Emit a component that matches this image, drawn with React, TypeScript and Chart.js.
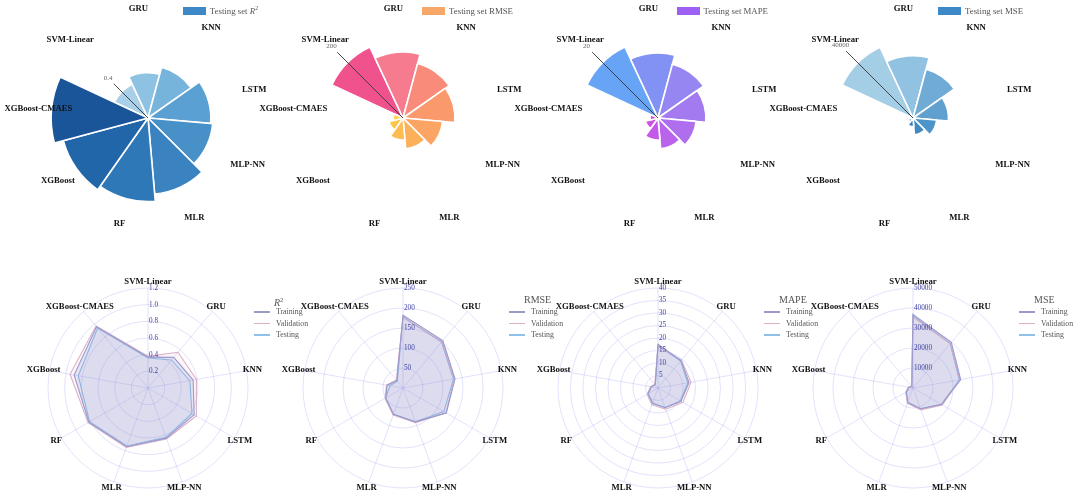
import React, { useEffect, useRef } from "react";
import { Chart, registerables } from "chart.js";

Chart.register(...registerables);

// ---------- data ----------
const categories = ["SVM-Linear", "GRU", "KNN", "LSTM", "MLP-NN", "MLR", "RF", "XGBoost", "XGBoost-CMAES"];
const seriesNames = ["Training", "Validation", "Testing"];
const metricTitles = ["R²", "RMSE", "MAPE", "MSE"];
const polarLegendTexts = ["Testing set ", "Testing set RMSE", "Testing set MAPE", "Testing set MSE"];

const r2Training = [0.37, 0.48, 0.55, 0.64, 0.64, 0.75, 0.82, 0.9, 0.96];
const r2Validation = [0.38, 0.56, 0.59, 0.67, 0.65, 0.76, 0.83, 0.95, 0.97];
const r2Testing = [0.36, 0.44, 0.51, 0.61, 0.63, 0.74, 0.81, 0.85, 0.94];

const rmseTraining = [182, 155, 132, 125, 90, 70, 50, 40, 24];
const rmseValidation = [176, 152, 130, 124, 92, 72, 52, 42, 26];
const rmseTesting = [178, 150, 128, 118, 90, 70, 50, 33, 22];

const mapeTraining = [17.5, 14.3, 12.6, 10.6, 8.4, 6.4, 4.5, 2.7, 1.7];
const mapeValidation = [16.6, 14.6, 13.4, 11.5, 9.0, 7.2, 5.0, 3.0, 2.0];
const mapeTesting = [17, 14.1, 12.1, 10.4, 8.3, 6.7, 4.8, 2.8, 1.7];

const mseTraining = [36800, 29800, 24200, 16400, 11000, 7600, 3800, 2000, 900];
const mseValidation = [35600, 29000, 23800, 16900, 11600, 8200, 4200, 2400, 1100];
const mseTesting = [36300, 29000, 23500, 16500, 11000, 7800, 4000, 2200, 1000];

// polar radial axis: max of range, end of drawn axis line, tick text
const polarMax = [0.97, 227, 21.7, 46500];
const polarAxisEnd = [0.47, 211, 20.2, 44000];
const polarAxisTick = ["0.4", "200", "20", "40000"];

// radar scales
const radarMax = [1.2, 250, 40, 50000];
const radarStep = [0.2, 50, 5, 10000];
const radarDecimals = [1, 0, 0, 0];

// ---------- styles ----------
const r2Colors = ["#a9d0e8", "#8ec2e2", "#77b4dc", "#5aa0d2", "#4790c8", "#3a83c0", "#2f78b8", "#2266aa", "#1a5499"];
const rmseColors = ["#f0528e", "#f67b8f", "#f98b7a", "#fa9a6c", "#fba463", "#fcb05a", "#fdbc50", "#fdc64a", "#fed244"];
const mapeColors = ["#68a4f6", "#8292f4", "#9686f2", "#a37af0", "#ae6eee", "#b964eb", "#c458e9", "#d04de6", "#dc44e3"];
const mseColors = ["#a4cde6", "#92c2e1", "#70abd6", "#5fa0d0", "#4d94ca", "#4189c3", "#367dbd", "#2b71b5", "#2264aa"];
const polarLegendColors = ["#3d88c6", "#f9a766", "#9c60f5", "#3d88c6"];

const lineColors = ["#9a9acc", "#dcb0c8", "#8cc2ea"];
const fillColors = ["rgba(120,120,195,0.15)", "rgba(220,160,190,0.09)", "rgba(120,170,230,0.12)"];
const gridColor = "rgba(125,125,240,0.28)";

const SERIF = '"Liberation Serif", "Times New Roman", serif';

const polarTesting = [r2Testing, rmseTesting, mapeTesting, mseTesting];
const polarColors = [r2Colors, rmseColors, mapeColors, mseColors];
const radarSeries = [
  [r2Training, r2Validation, r2Testing],
  [rmseTraining, rmseValidation, rmseTesting],
  [mapeTraining, mapeValidation, mapeTesting],
  [mseTraining, mseValidation, mseTesting],
];

const CW = 320;
const CH = 260;
const PAD = { left: 60, right: 60, top: 30, bottom: 30 };
const centerX = (i: number) => 148 + 255 * i;
const TOP_CY = 118;
const BOT_CY = 388;

function makePolarPlugin(axisEnd: number, axisLabel: string) {
  return {
    id: "polarDecor",
    afterDatasetsDraw(chart: any) {
      const s = chart.scales.r;
      const labels: string[] = chart.data.labels;
      const n = labels.length;
      const ctx = chart.ctx;
      const half = Math.PI / n;
      const angleAt = (i: number) => s.getIndexAngle(i) + half - Math.PI / 2;
      ctx.save();
      const a = angleAt(0);
      const d = s.getDistanceFromCenterForValue(axisEnd);
      ctx.strokeStyle = "#333";
      ctx.lineWidth = 0.9;
      ctx.beginPath();
      ctx.moveTo(s.xCenter, s.yCenter);
      ctx.lineTo(s.xCenter + Math.cos(a) * d, s.yCenter + Math.sin(a) * d);
      ctx.stroke();
      ctx.font = `7px ${SERIF}`;
      ctx.fillStyle = "#666";
      ctx.textAlign = "center";
      ctx.textBaseline = "middle";
      ctx.fillText(axisLabel, s.xCenter + Math.cos(a) * (d + 8), s.yCenter + Math.sin(a) * (d + 8));
      ctx.font = `bold 8.7px ${SERIF}`;
      ctx.fillStyle = "#111";
      labels.forEach((lab, i) => {
        const aa = angleAt(i);
        const r = s.drawingArea + 10;
        ctx.fillText(lab, s.xCenter + Math.cos(aa) * r, s.yCenter + Math.sin(aa) * r);
      });
      ctx.restore();
    },
  };
}

function makeRadarPlugin(decimals: number) {
  return {
    id: "radarDecor",
    afterDraw(chart: any) {
      const s = chart.scales.r;
      const ctx = chart.ctx;
      ctx.save();
      ctx.font = `7.2px ${SERIF}`;
      ctx.fillStyle = "#3f3fa0";
      ctx.textAlign = "left";
      ctx.textBaseline = "middle";
      s.ticks.forEach((t: any) => {
        if (t.value === 0) return;
        const d = s.getDistanceFromCenterForValue(t.value);
        ctx.fillText(Number(t.value).toFixed(decimals), s.xCenter + 1, s.yCenter - d);
      });
      ctx.font = `bold 8.7px ${SERIF}`;
      ctx.fillStyle = "#111";
      ctx.textAlign = "center";
      (chart.data.labels as string[]).forEach((lab, i) => {
        const p = s.getPointPosition(i, s.drawingArea + 6);
        ctx.fillText(lab, p.x, p.y);
      });
      ctx.restore();
    },
  };
}

function polarConfig(k: number): any {
  return {
    type: "polarArea",
    data: {
      labels: categories,
      datasets: [
        {
          label: polarLegendTexts[k],
          data: polarTesting[k],
          backgroundColor: polarColors[k],
          borderColor: "#ffffff",
          borderWidth: 1.6,
        },
      ],
    },
    options: {
      responsive: false,
      maintainAspectRatio: false,
      animation: false,
      layout: { padding: PAD },
      plugins: { legend: { display: false }, tooltip: { enabled: false } },
      scales: {
        r: {
          min: 0,
          max: polarMax[k],
          startAngle: -65,
          ticks: { display: false },
          grid: { display: false },
          angleLines: { display: false },
          pointLabels: { display: false },
        },
      },
    },
    plugins: [makePolarPlugin(polarAxisEnd[k], polarAxisTick[k])],
  };
}

function radarConfig(k: number): any {
  return {
    type: "radar",
    data: {
      labels: categories,
      datasets: seriesNames.map((name, j) => ({
        label: name,
        data: radarSeries[k][j],
        borderColor: lineColors[j],
        backgroundColor: fillColors[j],
        borderWidth: 1.1,
        pointRadius: 0,
        fill: true,
      })),
    },
    options: {
      responsive: false,
      maintainAspectRatio: false,
      animation: false,
      layout: { padding: PAD },
      plugins: { legend: { display: false }, tooltip: { enabled: false } },
      elements: { line: { tension: 0 } },
      scales: {
        r: {
          min: 0,
          max: radarMax[k],
          ticks: { display: false, stepSize: radarStep[k] },
          grid: { circular: true, color: gridColor, lineWidth: 0.8 },
          angleLines: { display: true, color: gridColor, lineWidth: 0.8 },
          pointLabels: { display: false },
        },
      },
    },
    plugins: [makeRadarPlugin(radarDecimals[k])],
  };
}

function ChartCanvas({ make, left, top }: { make: () => any; left: number; top: number }) {
  const ref = useRef<HTMLCanvasElement>(null);
  useEffect(() => {
    const c = new Chart(ref.current as HTMLCanvasElement, make());
    return () => c.destroy();
  }, []);
  return (
    <canvas
      ref={ref}
      width={CW}
      height={CH}
      style={{ position: "absolute", left, top, width: CW, height: CH }}
    />
  );
}

function TitleText({ k }: { k: number }) {
  if (k === 0)
    return (
      <span>
        <i>R</i>
        <sup style={{ fontSize: "0.65em" }}>2</sup>
      </span>
    );
  return <span>{metricTitles[k]}</span>;
}

export default function App() {
  return (
    <div
      style={{
        position: "absolute",
        left: 0,
        top: 0,
        width: 1080,
        height: 496,
        overflow: "hidden",
        background: "#fff",
        fontFamily: SERIF,
      }}
    >
      {[0, 1, 2, 3].map((k) => (
        <ChartCanvas key={"p" + k} make={() => polarConfig(k)} left={centerX(k) - CW / 2} top={TOP_CY - CH / 2} />
      ))}
      {[0, 1, 2, 3].map((k) => (
        <ChartCanvas key={"r" + k} make={() => radarConfig(k)} left={centerX(k) - CW / 2} top={BOT_CY - CH / 2} />
      ))}
      {/* polar legends */}
      {[0, 1, 2, 3].map((k) => (
        <div
          key={"pl" + k}
          style={{
            position: "absolute",
            right: 1080 - (centerX(k) + 110),
            top: 5,
            display: "flex",
            alignItems: "center",
            fontSize: 8.8,
            color: "#555",
            whiteSpace: "nowrap",
            lineHeight: "12px",
          }}
        >
          <span style={{ display: "inline-block", width: 23, height: 8, background: polarLegendColors[k], marginRight: 4 }} />
          <span>
            {polarLegendTexts[k]}
            {k === 0 ? (
              <>
                <i>R</i>
                <sup style={{ fontSize: "0.65em", verticalAlign: "4px", lineHeight: 0 }}>2</sup>
              </>
            ) : null}
          </span>
        </div>
      ))}
      {/* radar legends */}
      {[0, 1, 2, 3].map((k) => (
        <div key={"rl" + k} style={{ position: "absolute", left: centerX(k) + 106, top: 293, color: "#555" }}>
          <div
            style={{
              position: "absolute",
              left: k === 0 ? 20 : 15,
              top: 0,
              fontSize: 10,
              lineHeight: "14px",
              whiteSpace: "nowrap",
            }}
          >
            <TitleText k={k} />
          </div>
          {seriesNames.map((name, j) => (
            <div
              key={name}
              style={{
                position: "absolute",
                left: 0,
                top: 14 + j * 11.5,
                display: "flex",
                alignItems: "center",
                whiteSpace: "nowrap",
                fontSize: 7.8,
                lineHeight: "10px",
              }}
            >
              <span style={{ display: "inline-block", width: 16, height: 1.2, background: lineColors[j], marginRight: 6 }} />
              <span>{name}</span>
            </div>
          ))}
        </div>
      ))}
    </div>
  );
}
